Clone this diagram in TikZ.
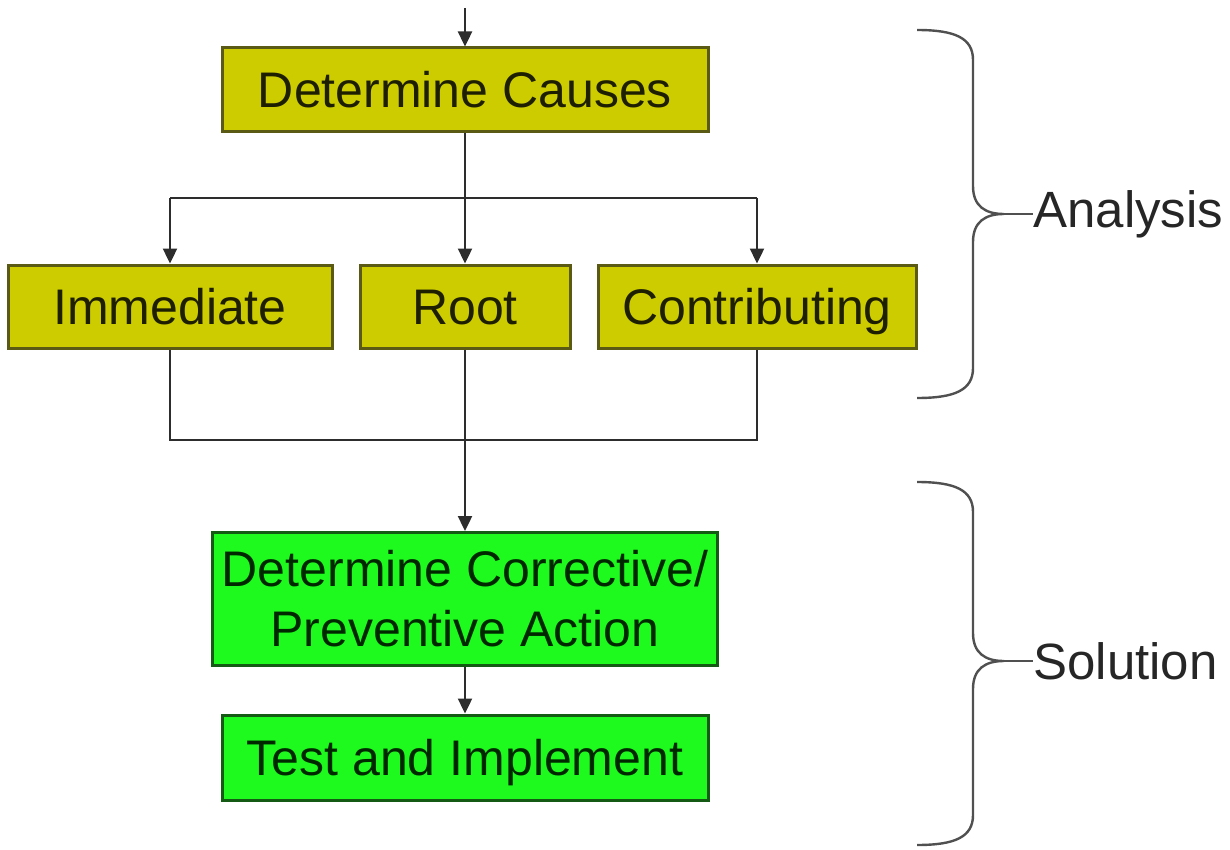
\documentclass[tikz,border=0pt]{standalone}
\usepackage{fontspec}
\setmainfont{Liberation Sans}
\usetikzlibrary{arrows.meta}
\definecolor{causefill}{RGB}{204,204,0}
\definecolor{causeline}{RGB}{90,90,20}
\definecolor{causetext}{RGB}{30,30,0}
\definecolor{actfill}{RGB}{30,250,30}
\definecolor{actline}{RGB}{20,90,20}
\definecolor{acttext}{RGB}{0,40,0}
\definecolor{wire}{RGB}{45,45,45}
\definecolor{bracecol}{RGB}{80,80,80}
\tikzset{
  basebox/.style={draw, line width=1.5pt, inner sep=0pt, align=center,
    font=\fontsize{25pt}{30pt}\selectfont},
  oneline/.style={text height=18pt, text depth=0pt},
  causebox/.style={basebox, oneline, fill=causefill, draw=causeline, text=causetext},
  actbox/.style={basebox, fill=actfill, draw=actline, text=acttext},
  wireline/.style={draw=wire, line width=1.2pt},
  flow/.style={wireline, -{Triangle[width=7pt,length=7.5pt]}},
  bracepath/.style={draw=bracecol, line width=1.2pt},
  sidelabel/.style={anchor=west, inner sep=0pt, text=black!85,
    font=\fontsize{25.5pt}{30pt}\selectfont}
}
\begin{document}
\begin{tikzpicture}[x=0.5pt,y=-0.5pt]
  \useasboundingbox (0,0) rectangle (1230,850);

  % cause analysis boxes (sizes in pt: one unit of the grid is 0.5pt)
  \node[causebox, minimum width=243pt, minimum height=42pt] (dc) at (465,90) {Determine Causes};
  \node[causebox, minimum width=162pt, minimum height=41.5pt] (imm) at (170,306.5) {Immediate};
  \node[causebox, minimum width=105pt, minimum height=41.5pt] (root) at (465,306.5) {Root};
  \node[causebox, minimum width=159pt, minimum height=41.5pt] (contrib) at (757,306.5) {Contributing};

  % solution boxes
  \node[actbox, minimum width=252.5pt, minimum height=66.5pt] (corr) at (465,599)
    {Determine Corrective/\\Preventive Action};
  \node[actbox, oneline, minimum width=243pt, minimum height=42.5pt] (test) at (465,757.5) {Test and Implement};

  % incoming arrow
  \coordinate (entry) at (465,8);
  \draw[flow] (entry) -- (dc.north);

  % split into the three cause types
  \coordinate (split) at (465,198);
  \draw[wireline] (dc.south) -- (split);
  \draw[wireline] (imm.north |- split) -- (contrib.north |- split);
  \draw[flow] (imm.north |- split) -- (imm.north);
  \draw[flow] (split) -- (root.north);
  \draw[flow] (contrib.north |- split) -- (contrib.north);

  % merge back and continue to the solution
  \coordinate (merge) at (465,440);
  \draw[wireline] (imm.south) -- (imm.south |- merge) -- (contrib.south |- merge) -- (contrib.south);
  \draw[flow] (root.south) -- (corr.north);
  \draw[flow] (corr.south) -- (test.north);

  % side labels
  \node[sidelabel] (analysis) at (1033,214) {Analysis};
  \node[sidelabel] (solution) at (1033,661) {Solution};

  % braces
  \draw[bracepath] (917,30) .. controls (955,30) and (973,38) .. (973,60)
    -- (973,186) .. controls (973,206) and (985,214) .. (1004,214)
    .. controls (985,214) and (973,222) .. (973,242)
    -- (973,368) .. controls (973,390) and (955,398) .. (917,398);
  \draw[bracepath] (1004,214) -- (analysis.west);

  \draw[bracepath] (917,482) .. controls (955,482) and (973,490) .. (973,512)
    -- (973,633) .. controls (973,653) and (985,661) .. (1004,661)
    .. controls (985,661) and (973,669) .. (973,689)
    -- (973,815) .. controls (973,837) and (955,845) .. (917,845);
  \draw[bracepath] (1004,661) -- (solution.west);
\end{tikzpicture}
\end{document}
